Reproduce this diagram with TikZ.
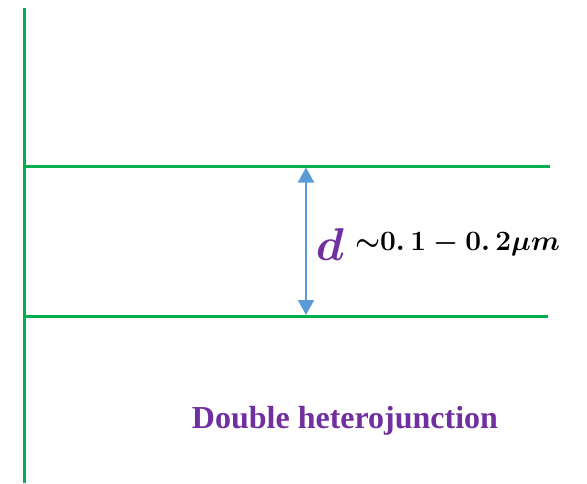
\RequirePackage{fix-cm}
\documentclass[tikz,border=0pt]{standalone}
\usepackage{amsmath,amssymb}
\usepackage{fontspec}
\setmainfont{Liberation Serif}
\usepackage{tikz}
\usetikzlibrary{arrows.meta,positioning}

\definecolor{layergreen}{HTML}{00B050}
\definecolor{gapblue}{HTML}{5B9BD5}
\definecolor{labelpurple}{HTML}{7030A0}

\tikzset{
  layer/.style={draw=layergreen,line width=3pt},
  gap/.style={draw=gapblue,line width=2pt,{Triangle[length=15pt,width=16pt]}-{Triangle[length=15pt,width=16pt]}},
  dlabel/.style={inner sep=0pt,text=labelpurple,font=\fontsize{46}{46}\selectfont\boldmath},
  rangelabel/.style={inner sep=0pt,anchor=west,font=\fontsize{28}{28}\selectfont\boldmath},
  caption/.style={inner sep=0pt,text=labelpurple,font=\fontsize{32}{36}\selectfont\bfseries}
}

\begin{document}
\begin{tikzpicture}[x=1pt,y=-1pt]
\useasboundingbox (0,0) rectangle (587,483);
% substrate edge and the two interfaces
\coordinate (wtop) at (24.5,8);
\coordinate (wbot) at (24.5,483);
\coordinate (tl) at (26,166);
\coordinate (tr) at (550,166);
\coordinate (bl) at (26,316.5);
\coordinate (br) at (548,316.5);
\draw[layer] (wtop) -- (wbot);
\draw[layer] (tl) -- (tr);
\draw[layer] (bl) -- (br);
% active layer thickness
\coordinate (atop) at (306,167.5);
\coordinate (abot) at (306,315);
\draw[gap] (atop) -- (abot);
\node[dlabel] (d) at (330,245) {$d$};
\node[rangelabel] (range) at (355,244) {$\mathord{\sim}0.\,1-0.\,2\mu m$};
\node[caption] (cap) at (345,421) {Double heterojunction};
\end{tikzpicture}
\end{document}
